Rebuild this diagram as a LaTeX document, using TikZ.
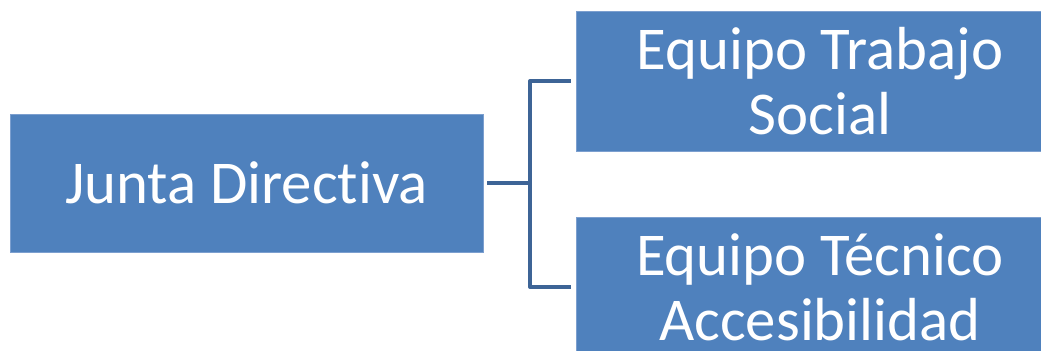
\documentclass[tikz,border=0pt]{standalone}
\usepackage{fontspec}
\setmainfont{Carlito}[RawFeature={-liga;-clig;-dlig}]
\usetikzlibrary{positioning}
\definecolor{boxblue}{HTML}{4F81BD}
\definecolor{boxedge}{HTML}{7C9FCF}
\definecolor{linkblue}{HTML}{3D6496}
\tikzstyle{block} = [rectangle, draw=boxedge, line width=0.4pt, fill=boxblue,
                 text=white, inner sep=0pt, align=center,
                 font=\fontsize{45.6pt}{48.8pt}\selectfont]
\tikzstyle{branch} = [draw=linkblue, line width=3pt, line join=round]

\begin{document}
\begin{tikzpicture}[x=0.75pt, y=-0.75pt]

\useasboundingbox (0,0) rectangle (1041,350);
\clip (0,0) rectangle (1041,350);

\node [block, minimum width=354.75pt, minimum height=103.5pt] at (246.5,183) (junta) {Junta Directiva};
\node [block, minimum width=366pt, minimum height=105pt] at (820,81) (trabajo) {Equipo Trabajo\\Social};
\node [block, minimum width=366pt, minimum height=105pt] at (820,287) (tecnico) {Equipo Técnico\\Accesibilidad};

\coordinate (fork) at (530,183);

\path [branch] ([xshift=3pt]junta.east) -- (fork);
\path [branch, shorten >=3.75pt] (fork) |- (trabajo.west);
\path [branch, shorten >=3.75pt] (fork) |- (tecnico.west);

\end{tikzpicture}
\end{document}
